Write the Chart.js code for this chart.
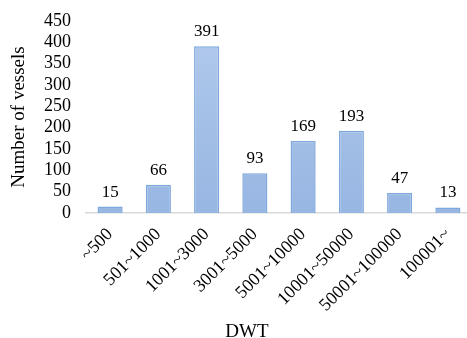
<!DOCTYPE html>
<html>
<head>
<meta charset="utf-8">
<script src="https://cdn.jsdelivr.net/npm/chart.js@4/dist/chart.umd.min.js"></script>
<style>
  html, body { margin: 0; padding: 0; background: #fff; overflow: hidden; }
  #wrap { width: 480px; height: 338px; }
</style>
</head>
<body>
<div id="wrap"><canvas id="dwtChart" width="480" height="338"></canvas></div>
<script>
// DWT classes and vessel counts
const categories = ['~500', '501~1000', '1001~3000', '3001~5000', '5001~10000', '10001~50000', '50001~100000', '100001~'];
const vessels = [15, 66, 391, 93, 169, 193, 47, 13];
const yTicks = [0, 50, 100, 150, 200, 250, 300, 350, 400, 450];
const xTitle = 'DWT';

const serif = '"Liberation Serif", "Times New Roman", serif';

// value labels above each bar + the x axis title under the rotated labels
const barLabels = {
    id: 'barLabels',
    afterDatasetsDraw(chart) {
        const ctx = chart.ctx;
        const meta = chart.getDatasetMeta(0);
        ctx.save();
        ctx.font = '17px ' + serif;
        ctx.fillStyle = '#000';
        ctx.textAlign = 'center';
        ctx.textBaseline = 'alphabetic';
        meta.data.forEach((bar, i) => {
            ctx.fillText(String(vessels[i]), bar.x, bar.y - 10);
        });
        // Excel put the axis title a bit left of the plot centre
        ctx.font = '19px ' + serif;
        ctx.fillText(xTitle, 247, 337);
        ctx.restore();
    }
};

function barFill(context) {
    const chart = context.chart;
    const area = chart.chartArea;
    if (!area) return '#a3bfe6';
    const g = chart.ctx.createLinearGradient(0, area.top, 0, area.bottom);
    g.addColorStop(0, '#b2caec');
    g.addColorStop(1, '#97b6e2');
    return g;
}

const ctx = document.getElementById('dwtChart').getContext('2d');
new Chart(ctx, {
    type: 'bar',
    data: {
        labels: categories,
        datasets: [{
            label: 'Number of vessels',
            data: vessels,
            backgroundColor: barFill,
            borderColor: '#7ea7dc',
            borderWidth: 1.5,
            barPercentage: 0.52,
            categoryPercentage: 1
        }]
    },
    plugins: [barLabels],
    options: {
        responsive: false,
        animation: false,
        layout: { padding: { left: 8, right: 8, top: 21, bottom: 0 } },
        plugins: {
            legend: { display: false },
            tooltip: { enabled: false }
        },
        scales: {
            x: {
                grid: { display: false },
                border: { color: '#d9d9d9', width: 1.5 },
                ticks: {
                    color: '#000',
                    font: { family: serif, size: 18 },
                    minRotation: 45,
                    maxRotation: 45,
                    autoSkip: false,
                    padding: 3
                },
                afterFit(scale) { scale.height = 125; }
            },
            y: {
                min: 0,
                max: 450,
                grid: { display: false },
                border: { display: false },
                afterBuildTicks(scale) { scale.ticks = yTicks.map(v => ({ value: v })); },
                ticks: {
                    color: '#000',
                    font: { family: serif, size: 18 },
                    autoSkip: false,
                    padding: 7
                },
                title: {
                    display: true,
                    text: 'Number of vessels',
                    color: '#000',
                    font: { family: serif, size: 19 },
                    padding: { top: 0, bottom: 0 }
                },
                afterFit(scale) { scale.width = 78; }
            }
        }
    }
});
</script>
</body>
</html>
